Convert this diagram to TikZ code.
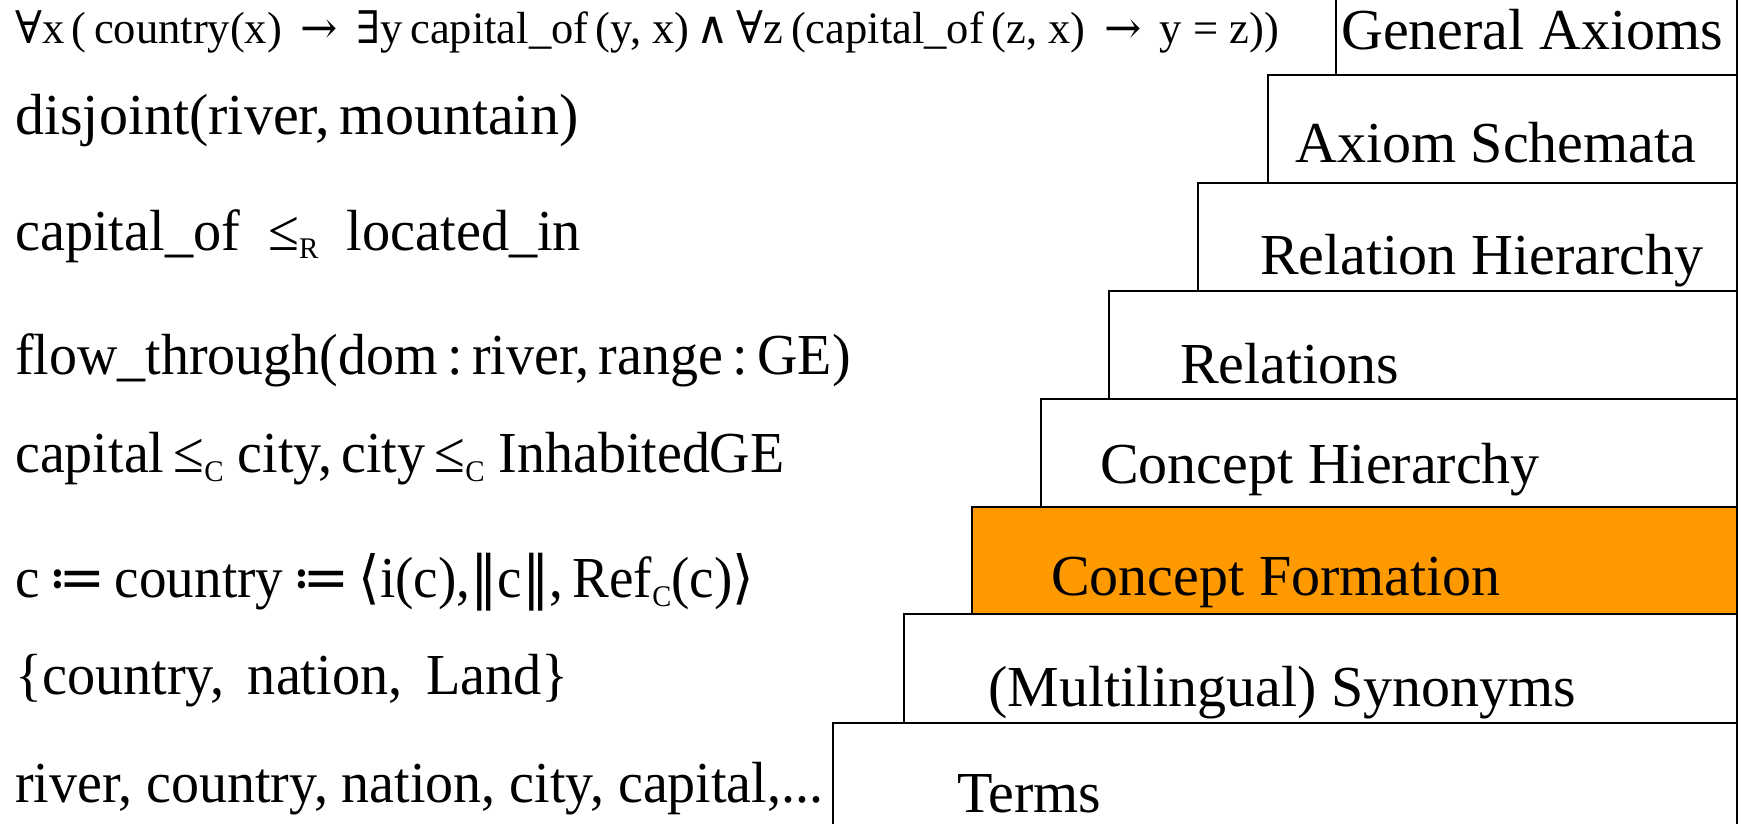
\documentclass[tikz,border=0pt]{standalone}
\usepackage{fontspec}
\usepackage{graphicx}
\setmainfont{Liberation Serif}
\newfontfamily\symf{DejaVu Serif}
\definecolor{layerorange}{HTML}{FF9900}
% symbol glyphs taken from DejaVu Serif
\newcommand{\sy}[1]{{\symf #1}}
% small lowered index letter
\newcommand{\idx}[1]{\raisebox{-9pt}{\fontsize{30}{32}\selectfont #1}}
% horizontally condensed formula text
\newcommand{\cond}[2]{\scalebox{#1}[1]{#2}}
\begin{document}
\begin{tikzpicture}[x=1pt,y=-1pt,
  layer/.style={draw=black, line width=2pt, fill=white, inner sep=0pt},
  layertext/.style={anchor=base west, inner sep=0pt, font=\fontsize{58}{66}\selectfont},
  formula/.style={anchor=base west, inner sep=0pt, font=\fontsize{58}{66}\selectfont},
  axiom/.style={anchor=base west, inner sep=0pt, font=\fontsize{45}{52}\selectfont}]
\useasboundingbox (0,0) rectangle (1741,824);

% stacked layers, bottom to top
\path[layer] (833,723) rectangle (1737,840);
\path[layer] (904,614) rectangle (1737,723);
\path[layer, fill=layerorange] (972,507) rectangle (1737,614);
\path[layer] (1041,399) rectangle (1737,507);
\path[layer] (1109,291) rectangle (1737,399);
\path[layer] (1198,183) rectangle (1737,291);
\path[layer] (1268,75) rectangle (1737,183);
\path[layer] (1336,-10) rectangle (1737,75);

% layer names
\node[layertext] (t-ga) at (1341,50) {General Axioms};
\node[layertext] (t-as) at (1295,163) {Axiom Schemata};
\node[layertext] (t-rh) at (1260,274) {Relation Hierarchy};
\node[layertext] (t-rel) at (1180,383) {Relations};
\node[layertext] (t-ch) at (1100,483) {Concept Hierarchy};
\node[layertext] (t-cf) at (1051,595) {Concept Formation};
\node[layertext] (t-syn) at (988,706) {(Multilingual) Synonyms};
\node[layertext] (t-terms) at (957,812) {Terms};

% examples for each layer
\node[axiom] (e-ga) at (15,44) {\cond{0.99}{\sy{∀}x\,(\,country(x)\ \,\sy{→}\ \,\sy{∃}y\,capital\_of\,(y, x)\,\sy{∧}\,\sy{∀}z\,(capital\_of\,(z, x)\ \,\sy{→}\ \,y = z))}};
\node[formula] (e-as) at (15,135) {disjoint(river,\,mountain)};
\node[formula] (e-rh) at (15,250) {\cond{0.97}{capital\_of\ \ ≤\idx{R}\ \ located\_in}};
\node[formula] (e-rel) at (15,374) {\cond{0.965}{flow\_through(dom\,:\,river,\,range\,:\,GE)}};
\node[formula] (e-ch) at (15,472) {\cond{0.965}{capital\,≤\idx{C} city,\,city\,≤\idx{C} InhabitedGE}};
\node[formula] (e-cf) at (15,597) {\cond{0.95}{c\,\sy{≔}\,country\,\sy{≔}\,\sy{⟨}i(c),\sy{‖}c\sy{‖},\,Ref\idx{C}(c)\sy{⟩}}};
\node[formula] (e-syn) at (15,694) {\cond{0.97}{\{country,\ \,nation,\ \,Land\}}};
\node[formula] (e-terms) at (15,802) {\cond{0.965}{river, country, nation, city, capital,...}};
\end{tikzpicture}
\end{document}
